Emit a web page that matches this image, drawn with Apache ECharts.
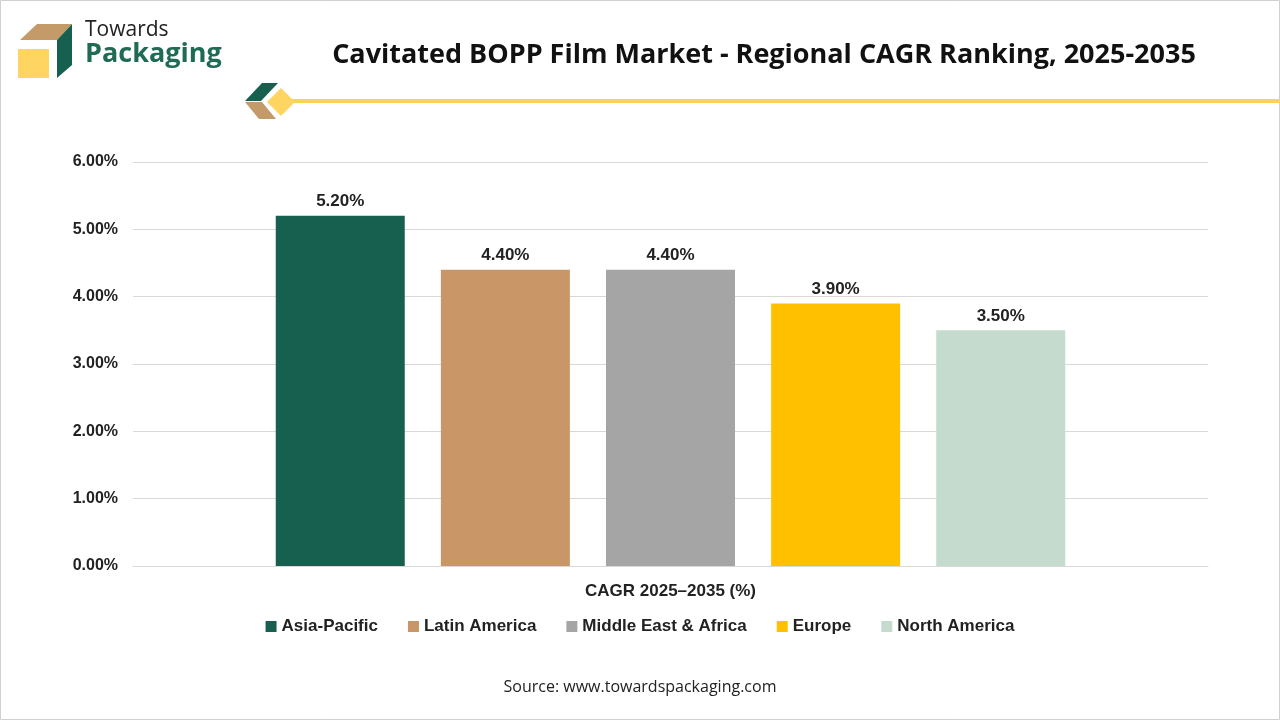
<!DOCTYPE html>
<html>
<head>
<meta charset="utf-8">
<script src="https://cdn.jsdelivr.net/npm/echarts@6/dist/echarts.min.js"></script>
<style>
  html, body { margin: 0; padding: 0; background: #fff; }
  #chart { width: 1280px; height: 720px; }
</style>
</head>
<body>
<div id="chart"></div>
<script>
var categories = ['CAGR 2025–2035 (%)'];
var regions = ['Asia-Pacific', 'Latin America', 'Middle East & Africa', 'Europe', 'North America'];
var cagrValues = [5.2, 4.4, 4.4, 3.9, 3.5];
var regionColors = ['#17604f', '#c99667', '#a5a5a5', '#ffc000', '#c5dbcd'];
var yTicks = { min: 0, max: 6, interval: 1 };

var chart = echarts.init(document.getElementById('chart'));

var series = [];
for (var i = 0; i < regions.length; i++) {
    series.push({
        name: regions[i],
        type: 'bar',
        data: [cagrValues[i]],
        barWidth: 129,
        barGap: '28%',
        itemStyle: { color: regionColors[i] },
        label: {
            show: true,
            position: 'top',
            distance: 6,
            formatter: function (p) { return p.value.toFixed(2) + '%'; },
            fontFamily: 'Liberation Sans',
            fontWeight: 'bold',
            fontSize: 17,
            color: '#222'
        }
    });
}

var option = {
    backgroundColor: '#fff',
    animation: false,
    title: {
        text: 'Cavitated BOPP Film Market - Regional CAGR Ranking, 2025-2035',
        left: 759,
        textAlign: 'center',
        top: 37,
        textStyle: { fontFamily: 'Open Sans', fontWeight: 'bold', fontSize: 27, color: '#111' }
    },
    grid: { left: 133, right: 72, top: 162, bottom: 154 },
    legend: {
        data: regions,
        bottom: 80,
        left: 'center',
        icon: 'rect',
        itemWidth: 11,
        itemHeight: 11,
        itemGap: 30,
        textStyle: { fontFamily: 'Liberation Sans', fontWeight: 'bold', fontSize: 17, color: '#222' }
    },
    xAxis: {
        type: 'category',
        data: categories,
        axisLine: { lineStyle: { color: '#d9d9d9' } },
        axisTick: { show: false },
        axisLabel: { margin: 17, fontFamily: 'Liberation Sans', fontWeight: 'bold', fontSize: 17, color: '#222' }
    },
    yAxis: {
        type: 'value',
        min: yTicks.min,
        max: yTicks.max,
        interval: yTicks.interval,
        axisLine: { show: false },
        axisTick: { show: false },
        splitLine: { lineStyle: { color: '#d9d9d9' } },
        axisLabel: {
            margin: 15,
            formatter: function (v) { return v.toFixed(2) + '%'; },
            fontFamily: 'Liberation Sans', fontWeight: 'bold', fontSize: 16, color: '#222'
        }
    },
    graphic: [
        // outer border
        { type: 'rect', shape: { x: 0.5, y: 0.5, width: 1279, height: 719 }, style: { fill: 'none', stroke: '#d0d0d0', lineWidth: 1 }, silent: true },
        // logo box
        { type: 'polygon', shape: { points: [[20, 40], [37, 24], [72, 24], [57, 40]] }, style: { fill: '#c39a68' } },
        { type: 'polygon', shape: { points: [[57, 40], [72, 24], [72, 65], [57, 78]] }, style: { fill: '#17604f' } },
        { type: 'rect', shape: { x: 18, y: 49, width: 31, height: 29 }, style: { fill: '#fdd560' } },
        { type: 'text', left: 85, top: 20, style: { text: 'Towards', font: '21px "Open Sans"', fill: '#222' } },
        { type: 'text', left: 85, top: 41, style: { text: 'Packaging', font: 'bold 27px "Open Sans"', fill: '#1f6b55' } },
        // decorative line
        { type: 'rect', shape: { x: 290, y: 99, width: 990, height: 4 }, style: { fill: '#f6d35c' } },
        { type: 'polygon', shape: { points: [[245, 101], [262, 83], [278, 83], [261, 101]] }, style: { fill: '#17604f' } },
        { type: 'polygon', shape: { points: [[245, 102], [262, 102], [276, 119], [259, 119]] }, style: { fill: '#c39a68' } },
        { type: 'polygon', shape: { points: [[281, 88], [295, 102], [281, 116], [267, 102]] }, style: { fill: '#fdd560' } },
        // source
        { type: 'text', left: 'center', top: 679, style: { text: 'Source: www.towardspackaging.com', font: '16px "Open Sans"', fill: '#222' } }
    ],
    series: series
};

chart.setOption(option);
</script>
</body>
</html>
